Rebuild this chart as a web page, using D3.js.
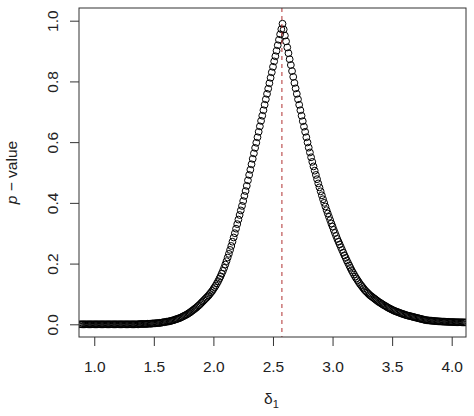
<!DOCTYPE html>
<html>
<head>
<meta charset="utf-8">
<script src="https://cdn.jsdelivr.net/npm/d3@7"></script>
<style>
  body { margin: 0; background: #fff; }
  text { font-family: "Liberation Sans", Arial, sans-serif; fill: #222; }
</style>
</head>
<body>
<div id="chart"></div>
<script>
// delta_1 grid (x) and p-value (y)
var deltas = [
  0.88,0.89,0.90,0.91,0.92,0.93,0.94,0.95,0.96,0.97,
  0.98,0.99,1.00,1.01,1.02,1.03,1.04,1.05,1.06,1.07,
  1.08,1.09,1.10,1.11,1.12,1.13,1.14,1.15,1.16,1.17,
  1.18,1.19,1.20,1.21,1.22,1.23,1.24,1.25,1.26,1.27,
  1.28,1.29,1.30,1.31,1.32,1.33,1.34,1.35,1.36,1.37,
  1.38,1.39,1.40,1.41,1.42,1.43,1.44,1.45,1.46,1.47,
  1.48,1.49,1.50,1.51,1.52,1.53,1.54,1.55,1.56,1.57,
  1.58,1.59,1.60,1.61,1.62,1.63,1.64,1.65,1.66,1.67,
  1.68,1.69,1.70,1.71,1.72,1.73,1.74,1.75,1.76,1.77,
  1.78,1.79,1.80,1.81,1.82,1.83,1.84,1.85,1.86,1.87,
  1.88,1.89,1.90,1.91,1.92,1.93,1.94,1.95,1.96,1.97,
  1.98,1.99,2.00,2.01,2.02,2.03,2.04,2.05,2.06,2.07,
  2.08,2.09,2.10,2.11,2.12,2.13,2.14,2.15,2.16,2.17,
  2.18,2.19,2.20,2.21,2.22,2.23,2.24,2.25,2.26,2.27,
  2.28,2.29,2.30,2.31,2.32,2.33,2.34,2.35,2.36,2.37,
  2.38,2.39,2.40,2.41,2.42,2.43,2.44,2.45,2.46,2.47,
  2.48,2.49,2.50,2.51,2.52,2.53,2.54,2.55,2.56,2.57,
  2.58,2.59,2.60,2.61,2.62,2.63,2.64,2.65,2.66,2.67,
  2.68,2.69,2.70,2.71,2.72,2.73,2.74,2.75,2.76,2.77,
  2.78,2.79,2.80,2.81,2.82,2.83,2.84,2.85,2.86,2.87,
  2.88,2.89,2.90,2.91,2.92,2.93,2.94,2.95,2.96,2.97,
  2.98,2.99,3.00,3.01,3.02,3.03,3.04,3.05,3.06,3.07,
  3.08,3.09,3.10,3.11,3.12,3.13,3.14,3.15,3.16,3.17,
  3.18,3.19,3.20,3.21,3.22,3.23,3.24,3.25,3.26,3.27,
  3.28,3.29,3.30,3.31,3.32,3.33,3.34,3.35,3.36,3.37,
  3.38,3.39,3.40,3.41,3.42,3.43,3.44,3.45,3.46,3.47,
  3.48,3.49,3.50,3.51,3.52,3.53,3.54,3.55,3.56,3.57,
  3.58,3.59,3.60,3.61,3.62,3.63,3.64,3.65,3.66,3.67,
  3.68,3.69,3.70,3.71,3.72,3.73,3.74,3.75,3.76,3.77,
  3.78,3.79,3.80,3.81,3.82,3.83,3.84,3.85,3.86,3.87,
  3.88,3.89,3.90,3.91,3.92,3.93,3.94,3.95,3.96,3.97,
  3.98,3.99,4.00,4.01,4.02,4.03,4.04,4.05,4.06,4.07,
  4.08,4.09,4.10,4.11,4.12
];

var pvalues = [
  0,0,0,0,0,0,0,0,0,0,
  0,0,0,0,0,0,0,0,0,0,
  0,0,0,0,0,0,0,0,0,0,
  0,0,0,0,0,0,0,0,0,0,
  0,0,0,0,0,0,0,0,0,0,
  0.001,0.001,0.001,0.001,0.001,0.001,0.001,0.002,0.002,0.002,
  0.002,0.003,0.003,0.003,0.004,0.004,0.004,0.005,0.005,0.006,
  0.007,0.007,0.008,0.009,0.009,0.010,0.011,0.012,0.013,0.014,
  0.016,0.017,0.018,0.020,0.021,0.023,0.025,0.027,0.029,0.031,
  0.033,0.036,0.038,0.041,0.044,0.047,0.050,0.053,0.056,0.060,
  0.063,0.067,0.071,0.075,0.079,0.083,0.087,0.091,0.095,0.100,
  0.105,0.110,0.116,0.122,0.128,0.135,0.142,0.150,0.158,0.167,
  0.176,0.186,0.197,0.208,0.220,0.232,0.245,0.258,0.272,0.286,
  0.300,0.315,0.330,0.345,0.360,0.375,0.390,0.406,0.423,0.439,
  0.456,0.474,0.492,0.509,0.527,0.545,0.563,0.581,0.598,0.616,
  0.634,0.652,0.670,0.687,0.705,0.723,0.741,0.759,0.776,0.794,
  0.812,0.830,0.848,0.866,0.883,0.901,0.919,0.937,0.955,0.972,
  0.990,0.971,0.951,0.932,0.912,0.893,0.873,0.854,0.834,0.815,
  0.795,0.777,0.759,0.741,0.723,0.705,0.687,0.669,0.651,0.634,
  0.616,0.599,0.582,0.566,0.550,0.535,0.520,0.506,0.492,0.478,
  0.464,0.451,0.438,0.425,0.412,0.400,0.388,0.376,0.365,0.354,
  0.343,0.332,0.322,0.311,0.301,0.291,0.281,0.272,0.263,0.254,
  0.245,0.236,0.227,0.219,0.210,0.202,0.194,0.186,0.178,0.171,
  0.164,0.157,0.151,0.145,0.139,0.133,0.128,0.123,0.118,0.113,
  0.109,0.105,0.101,0.097,0.094,0.091,0.088,0.085,0.082,0.079,
  0.076,0.073,0.071,0.068,0.066,0.063,0.061,0.059,0.056,0.054,
  0.052,0.050,0.048,0.046,0.044,0.043,0.041,0.040,0.038,0.037,
  0.035,0.034,0.033,0.031,0.030,0.029,0.028,0.027,0.026,0.025,
  0.024,0.023,0.022,0.021,0.020,0.019,0.018,0.017,0.016,0.015,
  0.014,0.0135,0.013,0.0126,0.0122,0.0118,0.0114,0.011,0.0107,0.0104,
  0.0101,0.0098,0.0095,0.0093,0.009,0.0088,0.0086,0.0084,0.0082,0.008,
  0.0078,0.0076,0.0075,0.0074,0.0072,0.0071,0.007,0.0069,0.0068,0.0067,
  0.0066,0.0065,0.0064,0.0063,0.0062
];

// tick labels and the reference line
var xTicks = [1.0, 1.5, 2.0, 2.5, 3.0, 3.5, 4.0];
var yTicks = [0.0, 0.2, 0.4, 0.6, 0.8, 1.0];
var deltaHat = 2.575;

var svgWidth = 474;
var svgHeight = 416;

// plot box in page pixels
var margin = { top: 8, right: 8, bottom: 79, left: 79 };
var width = svgWidth - margin.left - margin.right;
var height = svgHeight - margin.top - margin.bottom;

var svg = d3.select("#chart")
  .append("svg")
  .attr("width", svgWidth)
  .attr("height", svgHeight);

svg.append("rect")
  .attr("width", svgWidth)
  .attr("height", svgHeight)
  .attr("fill", "#fff");

var chartGroup = svg.append("g")
  .attr("transform", `translate(${margin.left}, ${margin.top})`);

var xScale = d3.scaleLinear()
  .domain([0.872, 4.12])
  .range([0, width]);

var yScale = d3.scaleLinear()
  .domain([-0.0418, 1.0418])
  .range([height, 0]);

// clip marks to the plot region like R does
svg.append("defs").append("clipPath")
  .attr("id", "plotClip")
  .append("rect")
  .attr("width", width)
  .attr("height", height);

var points = deltas.map(function(d, i) {
  return { delta: d, p: pvalues[i] };
});

var marks = chartGroup.append("g")
  .attr("clip-path", "url(#plotClip)");

marks.selectAll("circle")
  .data(points)
  .enter()
  .append("circle")
  .attr("cx", d => xScale(d.delta))
  .attr("cy", d => yScale(d.p))
  .attr("r", 3.4)
  .attr("fill", "none")
  .attr("stroke", "#000")
  .attr("stroke-width", 1);

// dashed vertical line at the estimate
marks.append("line")
  .attr("x1", xScale(deltaHat))
  .attr("x2", xScale(deltaHat))
  .attr("y1", 0)
  .attr("y2", height)
  .attr("stroke", "#b03030")
  .attr("stroke-width", 1)
  .attr("stroke-dasharray", "4,4");

// axes
var bottomAxis = d3.axisBottom(xScale)
  .tickValues(xTicks)
  .tickFormat(d3.format(".1f"))
  .tickSize(9)
  .tickPadding(15);

var leftAxis = d3.axisLeft(yScale)
  .tickValues(yTicks)
  .tickFormat(d3.format(".1f"))
  .tickSize(9);

var xAxisG = chartGroup.append("g")
  .attr("transform", `translate(0, ${height})`)
  .call(bottomAxis);

var yAxisG = chartGroup.append("g")
  .call(leftAxis);

[xAxisG, yAxisG].forEach(function(g) {
  g.select(".domain").remove();
  g.selectAll(".tick line").attr("stroke", "#333");
  g.selectAll(".tick text")
    .style("font-size", "15.5px")
    .style("font-family", "'Liberation Sans', Arial, sans-serif")
    .attr("fill", "#222");
});

// y labels are rotated like R's las = 0
yAxisG.selectAll(".tick text")
  .attr("transform", "rotate(-90)")
  .attr("text-anchor", "middle")
  .attr("x", 0)
  .attr("y", -21)
  .attr("dy", 0);

// plot frame
chartGroup.append("rect")
  .attr("width", width)
  .attr("height", height)
  .attr("fill", "none")
  .attr("stroke", "#333")
  .attr("stroke-width", 1);

// y axis title: p - value
var yTitle = svg.append("text")
  .attr("transform", `translate(17, ${margin.top + height / 2}) rotate(-90)`)
  .attr("text-anchor", "middle")
  .style("font-size", "15.5px");
yTitle.append("tspan").style("font-style", "italic").text("p");
yTitle.append("tspan").text(" \u2212 value");

// x axis title: delta_1
var xTitle = svg.append("text")
  .attr("x", margin.left + width / 2 - 1)
  .attr("y", 404)
  .attr("text-anchor", "middle")
  .style("font-size", "15.5px");
xTitle.append("tspan").text("\u03b4");
xTitle.append("tspan")
  .attr("dy", 4)
  .style("font-size", "11px")
  .text("1");
</script>
</body>
</html>
